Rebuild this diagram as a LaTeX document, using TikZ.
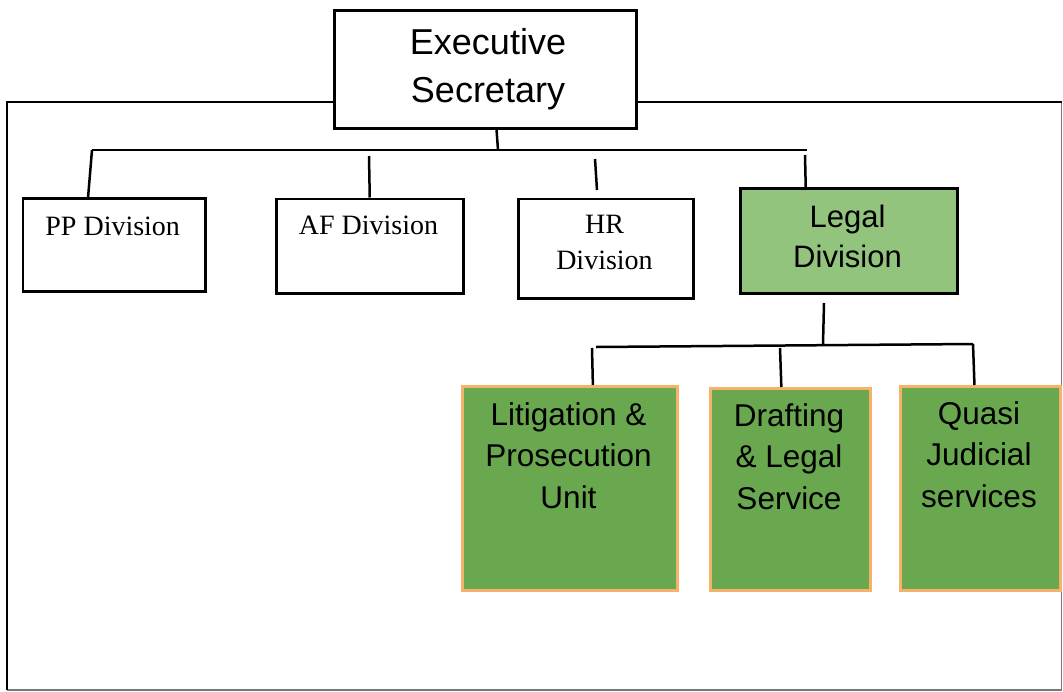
\documentclass[tikz,border=0pt]{standalone}
\usepackage{fontspec}
\setmainfont{Liberation Serif}
\newfontfamily\arialfont{Liberation Sans}
\usetikzlibrary{calc}
\definecolor{legalgreen}{RGB}{147,196,125}
\definecolor{unitgreen}{RGB}{106,168,79}
\definecolor{unitborder}{RGB}{246,178,107}
\definecolor{framegray}{RGB}{120,120,120}
\begin{document}
\begin{tikzpicture}[x=1pt,y=-1pt,
  box/.style={draw=black,line width=2.5pt,inner sep=0pt,anchor=north west},
  unitbox/.style={draw=unitborder,fill=unitgreen,line width=3pt,inner sep=0pt,anchor=north west},
  link/.style={draw=black,line width=2.5pt},
  frameline/.style={draw=black,line width=2.6pt},
  framelight/.style={draw=framegray,line width=1.4pt},
  serifl/.style={anchor=north,inner sep=0pt,align=center,font={\fontsize{28}{36}\selectfont}},
  sansl/.style={anchor=north,inner sep=0pt,align=center,font={\arialfont\fontsize{31.5}{41.5}\selectfont}}]
\useasboundingbox (0,0) rectangle (1063,691);

% outer frame
\coordinate (fTL) at (7,102);
\coordinate (fTR) at (1061.5,102);
\coordinate (fBL) at (7,690);
\coordinate (fBR) at (1061.5,690);
\draw[framelight] (fTR) -- (fBR) -- (fBL);

% boxes
\node[box,fill=white,minimum width=302pt,minimum height=118pt] (exec) at (333,9) {};
\node[box,minimum width=182.5pt,minimum height=93pt] (pp) at (21.5,197) {};
\node[box,minimum width=187pt,minimum height=94.5pt] (af) at (275,197.5) {};
\node[box,minimum width=175pt,minimum height=99.5pt] (hr) at (517,197.5) {};
\node[box,fill=legalgreen,minimum width=217pt,minimum height=105pt] (legal) at (739,187) {};
\node[unitbox,minimum width=215pt,minimum height=204pt] (lit) at (461,385) {};
\node[unitbox,minimum width=160pt,minimum height=202pt] (draft) at (709,387) {};
\node[unitbox,minimum width=160pt,minimum height=204pt] (quasi) at (899,385) {};

\draw[frameline] (exec.west |- fTL) -- (fTL) -- (fBL);
\draw[frameline] (exec.east |- fTR) -- (fTR);

% labels
\node[anchor=north,inner sep=0pt,align=center,font={\arialfont\fontsize{36}{48}\selectfont}] (exec-t) at (488,28) {Executive\\Secretary};
\node[serifl] (pp-t) at (112.7,216.5) {PP Division};
\node[serifl] (af-t) at (368.5,216) {AF Division};
\node[serifl] (hr-t) at (604.5,214.5) {HR\\Division};
\node[anchor=north,inner sep=0pt,align=center,font={\arialfont\fontsize{31}{40}\selectfont}] (legal-t) at (847.5,204.8) {Legal\\Division};
\node[sansl] (lit-t) at (568.5,402) {Litigation \&\\Prosecution\\Unit};
\node[sansl] (draft-t) at (789,403) {Drafting\\\& Legal\\Service};
\node[sansl] (quasi-t) at (979,401) {Quasi\\Judicial\\services};

% connectors
\coordinate (busL) at (92,150);
\coordinate (busR) at (807,150);
\coordinate (busX) at (498,150);
\coordinate (afTop) at (369,156);
\coordinate (hrTop) at (595,159);
\coordinate (hrBot) at (597,190);
\coordinate (lgTop) at (805,155);
\coordinate (lgDown) at (824,303);
\coordinate (subX) at (823,344);
\coordinate (subL) at (596,347);
\coordinate (subR) at (973,344);
\coordinate (litTop) at (592,348);
\coordinate (draftTop) at (780,348);

\draw[link] ($(exec.south west)!0.537!(exec.south east)$) -- (busX);
\draw[link] (busL) -- (busR);
\draw[link] (busL) -- ($(pp.north west)!0.36!(pp.north east)$);
\draw[link] (afTop) -- (af.north);
\draw[link] (hrTop) -- (hrBot);
\draw[link] (lgTop) -- ($(legal.north west)!0.304!(legal.north east)$);
\draw[link] (lgDown) -- (subX);
\draw[link] (subL) -- (subR);
\draw[link] (litTop) -- ($(lit.north west)!0.605!(lit.north east)$);
\draw[link] (draftTop) -- ($(draft.north west)!0.444!(draft.north east)$);
\draw[link] (subR) -- ($(quasi.north west)!0.463!(quasi.north east)$);
\end{tikzpicture}
\end{document}
